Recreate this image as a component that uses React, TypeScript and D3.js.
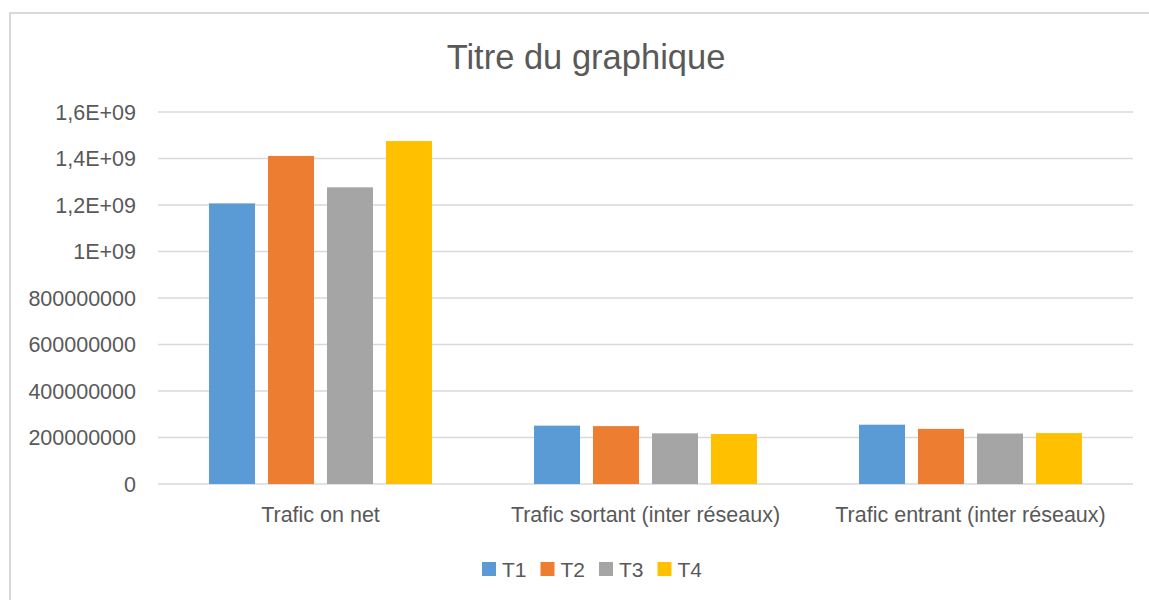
import React from 'react';
import * as d3 from 'd3';

// Data
const categories = ['Trafic on net', 'Trafic sortant (inter réseaux)', 'Trafic entrant (inter réseaux)'];
const seriesNames = ['T1', 'T2', 'T3', 'T4'];
const t1 = [1.207e9, 2.51e8, 2.55e8];
const t2 = [1.411e9, 2.49e8, 2.37e8];
const t3 = [1.276e9, 2.18e8, 2.17e8];
const t4 = [1.475e9, 2.15e8, 2.19e8];
const seriesValues = [t1, t2, t3, t4];
const yTicks = [0, 2e8, 4e8, 6e8, 8e8, 1e9, 1.2e9, 1.4e9, 1.6e9];
const yTickLabels = ['0', '200000000', '400000000', '600000000', '800000000', '1E+09', '1,2E+09', '1,4E+09', '1,6E+09'];
const colors = ['#5B9BD5', '#ED7D31', '#A5A5A5', '#FFC000'];

const W = 1149;
const H = 600;
const textColor = '#595959';
const gridColor = '#D9D9D9';
const font = '"Liberation Sans", Arial, sans-serif';

export default function App() {
  // Plot area
  const left = 158;
  const right = 1133;
  const top = 112;
  const bottom = 484;

  const x0 = d3.scaleBand().domain(categories).range([left, right]).padding(0);
  const clusterW = x0.bandwidth() * 0.686;
  const clusterOff = (x0.bandwidth() - clusterW) / 2;
  const x1 = d3.scaleBand().domain(seriesNames).range([0, clusterW]).paddingInner(0.22).paddingOuter(0);
  const y = d3.scaleLinear().domain([0, 1.6e9]).range([bottom, top]);

  // legend layout
  const legendStep = 58.5;
  const legendX = 482;
  const legendY = 562;

  return (
    <svg
      width={W}
      height={H}
      style={{ position: 'absolute', left: 0, top: 0, background: '#fff' }}
    >
      <rect x={0} y={0} width={W} height={H} fill="#fff" />
      {/* chart area border */}
      <path d={`M10,${H} L10,13 L${W},13`} fill="none" stroke={gridColor} strokeWidth={2} />

      {/* title */}
      <text
        x={586}
        y={69}
        textAnchor="middle"
        fontFamily={font}
        fontSize={34.5}
        fill={textColor}
      >
        Titre du graphique
      </text>

      {/* gridlines and tick labels */}
      <g className="y-axis">
        {yTicks.map((t, i) => (
          <g key={t}>
            <line x1={left} x2={right} y1={y(t)} y2={y(t)} stroke={gridColor} strokeWidth={1.5} />
            <text
              x={136}
              y={y(t)}
              dy="0.36em"
              textAnchor="end"
              fontFamily={font}
              fontSize={21.5}
              fill={textColor}
            >
              {yTickLabels[i]}
            </text>
          </g>
        ))}
      </g>

      {/* bars */}
      <g className="plot-area">
        {categories.map((c, ci) => (
          <g key={c} transform={`translate(${(x0(c) ?? 0) + clusterOff},0)`}>
            {seriesNames.map((s, si) => (
              <rect
                key={s}
                x={x1(s)}
                y={y(seriesValues[si][ci])}
                width={x1.bandwidth()}
                height={bottom - y(seriesValues[si][ci])}
                fill={colors[si]}
              />
            ))}
          </g>
        ))}
      </g>

      {/* category labels */}
      <g className="x-axis">
        {categories.map((c) => (
          <text
            key={c}
            x={(x0(c) ?? 0) + x0.bandwidth() / 2}
            y={522}
            textAnchor="middle"
            fontFamily={font}
            fontSize={21.5}
            fill={textColor}
          >
            {c}
          </text>
        ))}
      </g>

      {/* legend */}
      <g className="legend">
        {seriesNames.map((s, i) => (
          <g key={s} transform={`translate(${legendX + i * legendStep},${legendY})`}>
            <rect x={0} y={0} width={14} height={14} fill={colors[i]} />
            <text x={20} y={7} dy="0.36em" fontFamily={font} fontSize={21} fill={textColor}>
              {s}
            </text>
          </g>
        ))}
      </g>
    </svg>
  );
}
